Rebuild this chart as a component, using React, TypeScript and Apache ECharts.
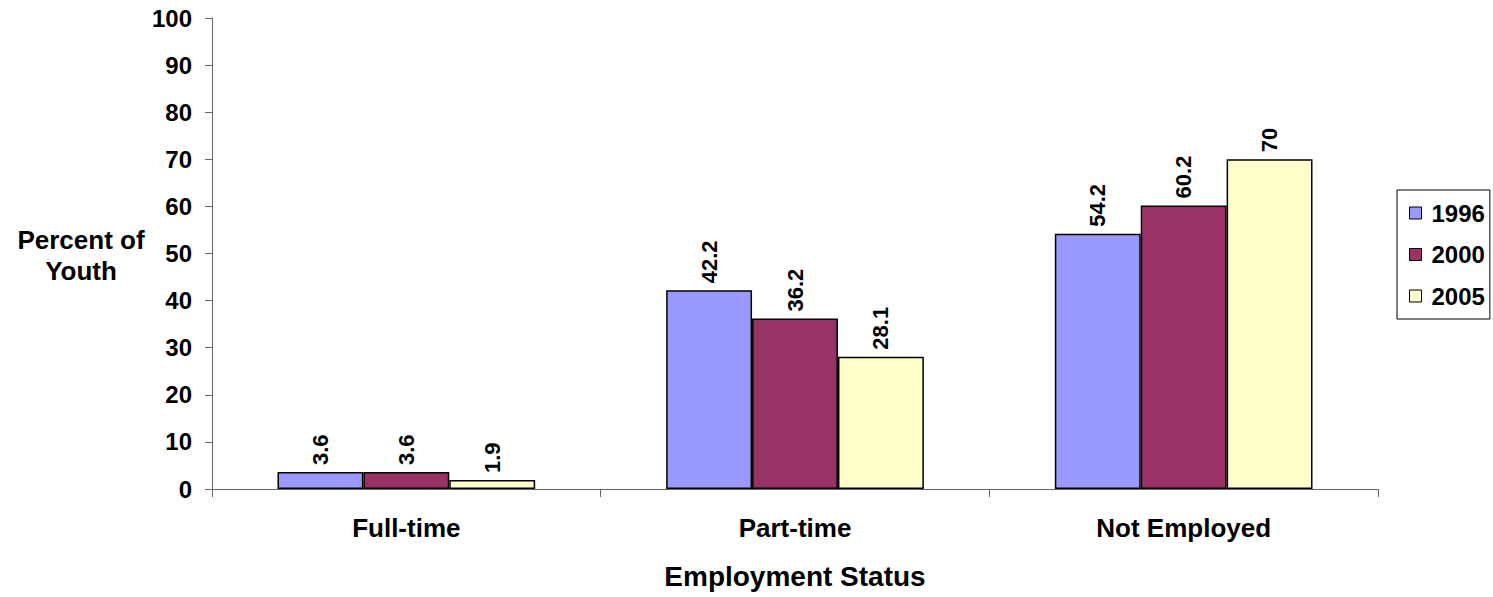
import React, { useEffect, useRef } from "react";
import * as echarts from "echarts";

const categories = ["Full-time", "Part-time", "Not Employed"];
const seriesNames = ["1996", "2000", "2005"];
const values1996 = [3.6, 42.2, 54.2];
const values2000 = [3.6, 36.2, 60.2];
const values2005 = [1.9, 28.1, 70];
const colors = ["#9999FF", "#993366", "#FFFFCC"];
const yTicks = { min: 0, max: 100, interval: 10 };

const FONT = "Arial, 'Liberation Sans', sans-serif";

export default function App() {
  const ref = useRef<HTMLDivElement>(null);
  useEffect(() => {
    if (!ref.current) return;
    const chart = echarts.init(ref.current, undefined, { renderer: "svg" });
    const data = [values1996, values2000, values2005];
    chart.setOption({
      animation: false,
      backgroundColor: "#fff",
      textStyle: { fontFamily: FONT },
      grid: { left: 212, right: 115, top: 18, bottom: 108 },
      legend: {
        orient: "vertical",
        left: 1397,
        top: 190,
        padding: [11, 5, 11, 12],
        borderColor: "#000",
        borderWidth: 1,
        itemWidth: 12,
        itemHeight: 12,
        itemGap: 17.5,
        icon: "rect",
        itemStyle: { borderColor: "#000", borderWidth: 1 },
        textStyle: {
          fontSize: 24,
          fontWeight: "bold",
          color: "#000",
          fontFamily: FONT,
          padding: [0, 0, 0, 5],
        },
        data: seriesNames,
      },
      xAxis: {
        type: "category",
        data: categories,
        name: "Employment Status",
        nameLocation: "middle",
        nameGap: 73,
        nameTextStyle: { fontSize: 28, fontWeight: "bold", color: "#000", fontFamily: FONT, verticalAlign: "top" },
        axisLine: { lineStyle: { color: "#666", width: 1 } },
        axisTick: { show: true, length: 8, lineStyle: { color: "#666" } },
        axisLabel: { margin: 26, fontSize: 26, fontWeight: "bold", color: "#000", fontFamily: FONT },
      },
      yAxis: {
        type: "value",
        min: yTicks.min,
        max: yTicks.max,
        interval: yTicks.interval,
        splitLine: { show: false },
        axisLine: { show: true, lineStyle: { color: "#666", width: 1 } },
        axisTick: { show: true, length: 7, lineStyle: { color: "#666" } },
        axisLabel: { margin: 20, fontSize: 24, fontWeight: "bold", color: "#000", fontFamily: FONT },
      },
      graphic: [
        {
          type: "text",
          left: 17,
          top: 224,
          style: {
            text: "Percent of\nYouth",
            fill: "#000",
            font: `bold 26px ${FONT}`,
            textAlign: "center",
            lineHeight: 31,
            width: 128,
          },
        },
      ],
      series: seriesNames.map((name, i) => ({
        name,
        type: "bar",
        data: data[i],
        barGap: "0%",
        barCategoryGap: "33.7%",
        itemStyle: { color: colors[i], borderColor: "#000", borderWidth: 1.5 },
        label: {
          show: true,
          position: "top",
          rotate: 90,
          align: "left",
          verticalAlign: "middle",
          distance: 7,
          fontSize: 22,
          fontWeight: "bold",
          color: "#000",
          fontFamily: FONT,
        },
      })),
    });
    return () => chart.dispose();
  }, []);
  return (
    <div
      ref={ref}
      style={{ position: "fixed", left: 0, top: 0, width: 1493, height: 597 }}
    />
  );
}
